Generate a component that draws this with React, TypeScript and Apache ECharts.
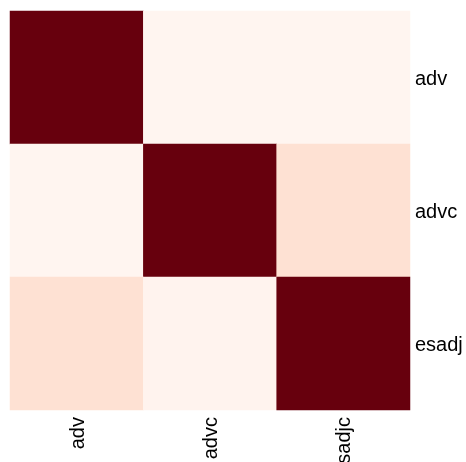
import React, { useEffect, useRef } from "react";
import * as echarts from "echarts";

const xCategories = ["adv", "advc", "esadjc"];
const yCategories = ["adv", "advc", "esadj"];
// rows (y) x columns (x)
const rowAdv = [1, 0.0, 0.0];
const rowAdvc = [0.0, 1, 0.12];
const rowEsadj = [0.12, 0.01, 1];
const matrix = [rowAdv, rowAdvc, rowEsadj];

const redsPalette = [
  "#fff5f0", "#fee0d2", "#fcbba1", "#fc9272", "#fb6a4a",
  "#ef3b2c", "#cb181d", "#a50f15", "#67000d",
];

export default function App() {
  const ref = useRef<HTMLDivElement>(null);
  useEffect(() => {
    if (!ref.current) return;
    const chart = echarts.init(ref.current, null, { renderer: "svg" });
    const data: [number, number, number][] = [];
    matrix.forEach((row, yi) => row.forEach((v, xi) => data.push([xi, yi, v])));
    chart.setOption({
      animation: false,
      grid: { left: 10, top: 11, width: 400, height: 399, outerBoundsMode: "none" },
      xAxis: {
        type: "category",
        data: xCategories,
        position: "bottom",
        axisLine: { show: false },
        axisTick: { show: false },
        splitLine: { show: false },
        axisLabel: {
          rotate: 90,
          margin: 7,
          color: "#000",
          fontSize: 20,
          fontFamily: "Liberation Sans, Arial, sans-serif",
        },
      },
      yAxis: {
        type: "category",
        data: yCategories,
        inverse: true,
        position: "right",
        axisLine: { show: false },
        axisTick: { show: false },
        splitLine: { show: false },
        axisLabel: {
          margin: 5,
          color: "#000",
          fontSize: 20,
          fontFamily: "Liberation Sans, Arial, sans-serif",
        },
      },
      visualMap: {
        show: false,
        min: 0,
        max: 1,
        dimension: 2,
        inRange: { color: redsPalette },
      },
      series: [
        {
          type: "heatmap",
          data,
          itemStyle: { borderWidth: 0 },
          emphasis: { disabled: true },
        },
      ],
    });
    return () => chart.dispose();
  }, []);
  return (
    <div
      ref={ref}
      style={{ position: "fixed", left: 0, top: 0, width: 466, height: 462 }}
    />
  );
}
